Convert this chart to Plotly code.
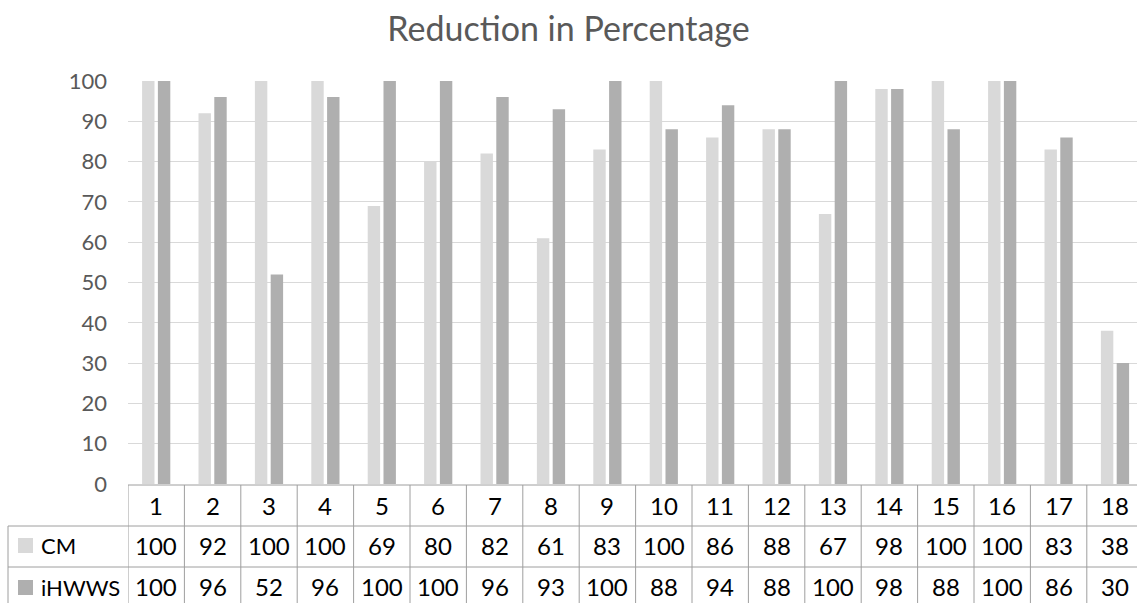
import plotly.graph_objects as go

# Data
categories = list(range(1, 19))
cm_values = [100, 92, 100, 100, 69, 80, 82, 61, 83, 100, 86, 88, 67, 98, 100, 100, 83, 38]
ihwws_values = [100, 96, 52, 96, 100, 100, 96, 93, 100, 88, 94, 88, 100, 98, 88, 100, 86, 30]
series_names = ["CM", "iHWWS"]
series_colors = ["#D9D9D9", "#AFAFAF"]

W, H = 1137, 603
L, R_EDGE, TOP, BOTTOM = 128, 1137, 81, 484   # plot area in pixels
COL_W = 56.4                                   # category width in pixels

def px(x):
    return (x - L) / (R_EDGE - L)

def py(y):
    return (BOTTOM - y) / (BOTTOM - TOP)

FONT = "Lato, 'Open Sans', sans-serif"
GRID = "#D9D9D9"
TABLE_LINE = "#9E9E9E"

fig = go.Figure()
fig.add_trace(go.Bar(x=categories, y=cm_values, name=series_names[0],
                     marker=dict(color=series_colors[0], line=dict(width=0)),
                     width=0.22, offset=-0.25))
fig.add_trace(go.Bar(x=categories, y=ihwws_values, name=series_names[1],
                     marker=dict(color=series_colors[1], line=dict(width=0)),
                     width=0.22, offset=0.03))

shapes = []
annotations = []

# Data table: horizontal rules
shapes.append(dict(type="line", xref="paper", yref="paper", x0=0, x1=1.01,
                   y0=py(485), y1=py(485), line=dict(color=TABLE_LINE, width=1)))
for yy in (526, 567):
    shapes.append(dict(type="line", xref="paper", yref="paper", x0=px(8), x1=1.01,
                       y0=py(yy), y1=py(yy), line=dict(color=TABLE_LINE, width=1)))
# left edge of row-label column
shapes.append(dict(type="line", xref="paper", yref="paper", x0=px(8), x1=px(8),
                   y0=py(526), y1=py(610), line=dict(color=TABLE_LINE, width=1)))
# column boundaries
for i in range(len(categories) + 1):
    xb = categories[0] - 0.5 + i
    shapes.append(dict(type="line", xref="x", yref="paper", x0=xb, x1=xb,
                       y0=py(485), y1=py(610), line=dict(color=TABLE_LINE, width=1)))

# Table text
cell_font = dict(family=FONT, size=24, color="#000000")
label_font = dict(family=FONT, size=22, color="#000000")
for c, a, b in zip(categories, cm_values, ihwws_values):
    annotations.append(dict(x=c, y=py(505), xref="x", yref="paper", text=str(c),
                            showarrow=False, font=cell_font, xanchor="center", yanchor="middle"))
    annotations.append(dict(x=c, y=py(545), xref="x", yref="paper", text=str(a),
                            showarrow=False, font=cell_font, xanchor="center", yanchor="middle"))
    annotations.append(dict(x=c, y=py(586), xref="x", yref="paper", text=str(b),
                            showarrow=False, font=cell_font, xanchor="center", yanchor="middle"))

# Row labels with legend keys
for name, color, yc in zip(series_names, series_colors, (545, 587)):
    shapes.append(dict(type="rect", xref="paper", yref="paper",
                       x0=px(18), x1=px(33), y0=py(yc - 7), y1=py(yc + 8),
                       fillcolor=color, line=dict(width=0)))
    annotations.append(dict(x=px(39), y=py(yc), xref="paper", yref="paper", text=name,
                            showarrow=False, font=label_font, xanchor="left", yanchor="middle"))

fig.update_layout(
    width=W, height=H,
    margin=dict(l=L, r=0, t=TOP, b=H - BOTTOM),
    paper_bgcolor="white", plot_bgcolor="white",
    barmode="overlay",
    showlegend=False,
    title=dict(text="Reduction in Percentage", x=0.5, xref="container", xanchor="center",
               y=1 - 29 / H, yanchor="middle",
               font=dict(family=FONT, size=34, color="#595959")),
    xaxis=dict(range=[0.5, 0.5 + (R_EDGE - L) / COL_W], showticklabels=False,
               showgrid=False, zeroline=False, showline=False, ticks=""),
    yaxis=dict(range=[0, 100], dtick=10, tick0=0, showgrid=True, gridcolor=GRID,
               gridwidth=1, zeroline=False, showline=False, ticks="",
               ticklabelstandoff=20,
               tickfont=dict(family=FONT, size=22, color="#595959")),
    shapes=shapes,
    annotations=annotations,
)

fig.write_html("out.html")
